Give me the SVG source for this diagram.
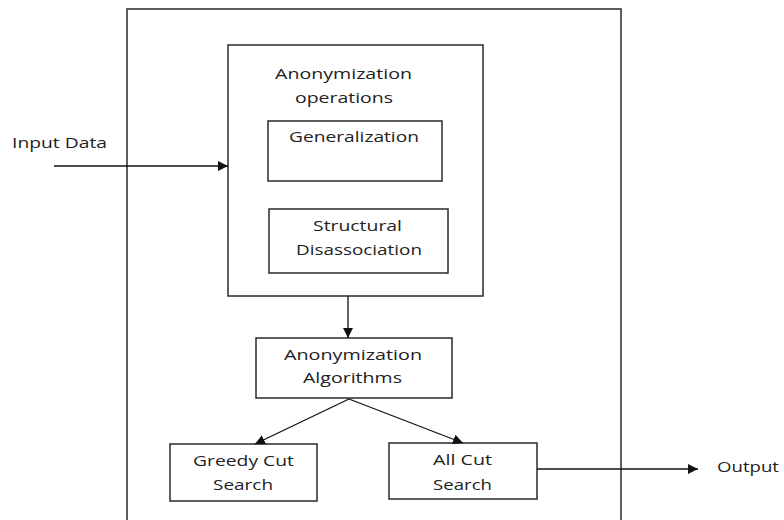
<svg xmlns="http://www.w3.org/2000/svg" width="784" height="520" viewBox="0 0 784 520">
<style>
.box{fill:none;stroke:#2a2a2a;stroke-width:1.5}
.t{font-family:"Open Sans","Liberation Sans",sans-serif;font-size:15px;fill:#222;text-anchor:start}
.c{stroke:#111;stroke-width:1.3;fill:none}
</style>
<defs>
<marker id="ah" viewBox="0 0 10 10" refX="10" refY="5" markerWidth="10" markerHeight="10" markerUnits="userSpaceOnUse" orient="auto">
<path d="M0,0 L10,5 L0,10 Z" fill="#111"/>
</marker>
</defs>
<rect width="784" height="520" fill="#fff"/>
<g id="outer"><path class="box" d="M127,525 V9 H621 V525"/></g>
<g id="ops">
<rect class="box" x="228" y="45" width="255" height="251"/>
<text class="t" x="275" y="79" textLength="137" lengthAdjust="spacingAndGlyphs">Anonymization</text>
<text class="t" x="295" y="103" textLength="98" lengthAdjust="spacingAndGlyphs">operations</text>
</g>
<g id="gen">
<rect class="box" x="268" y="121" width="174" height="60"/>
<text class="t" x="289" y="142" textLength="130" lengthAdjust="spacingAndGlyphs">Generalization</text>
</g>
<g id="struct">
<rect class="box" x="269" y="209" width="179" height="64"/>
<text class="t" x="313" y="231" textLength="89" lengthAdjust="spacingAndGlyphs">Structural</text>
<text class="t" x="296" y="255" textLength="126" lengthAdjust="spacingAndGlyphs">Disassociation</text>
</g>
<g id="algo">
<rect class="box" x="256" y="338" width="196" height="60"/>
<text class="t" x="284" y="360" textLength="138" lengthAdjust="spacingAndGlyphs">Anonymization</text>
<text class="t" x="303" y="383" textLength="99" lengthAdjust="spacingAndGlyphs">Algorithms</text>
</g>
<g id="greedy">
<rect class="box" x="170" y="444" width="147" height="57"/>
<text class="t" x="193" y="466" textLength="101" lengthAdjust="spacingAndGlyphs">Greedy Cut</text>
<text class="t" x="213" y="490" textLength="60" lengthAdjust="spacingAndGlyphs">Search</text>
</g>
<g id="allcut">
<rect class="box" x="389" y="443" width="148" height="56"/>
<text class="t" x="433" y="465" textLength="59" lengthAdjust="spacingAndGlyphs">All Cut</text>
<text class="t" x="433" y="490" textLength="59" lengthAdjust="spacingAndGlyphs">Search</text>
</g>
<g id="input"><text class="t" x="12" y="148" textLength="95" lengthAdjust="spacingAndGlyphs">Input Data</text></g>
<g id="output"><text class="t" x="717" y="472" textLength="62" lengthAdjust="spacingAndGlyphs">Output</text></g>
<g id="connectors">
<line class="c" x1="54" y1="166" x2="228" y2="166" marker-end="url(#ah)"/>
<line class="c" x1="348" y1="296" x2="348" y2="338" marker-end="url(#ah)"/>
<line class="c" x1="349" y1="399" x2="255" y2="444" marker-end="url(#ah)"/>
<line class="c" x1="349" y1="399" x2="463" y2="443" marker-end="url(#ah)"/>
<line class="c" x1="537" y1="469" x2="698" y2="469" marker-end="url(#ah)"/>
</g>
</svg>
